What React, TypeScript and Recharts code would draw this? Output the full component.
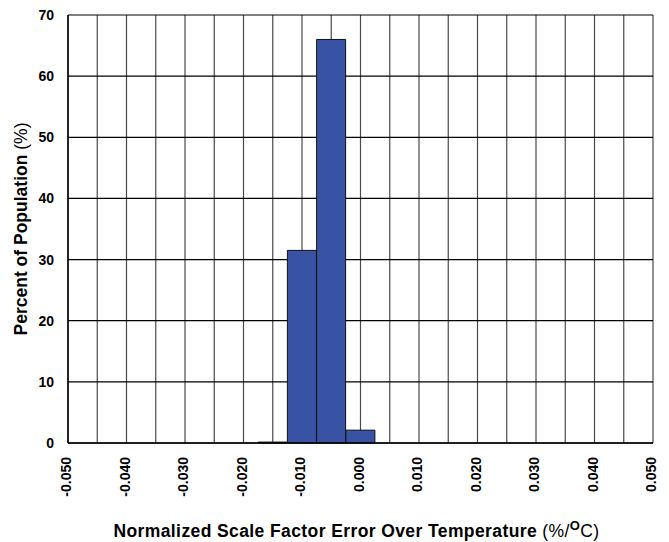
import React from 'react';
import { BarChart, Bar, XAxis, YAxis, CartesianGrid, Label } from 'recharts';

// bin centres (%/°C) and percent of population
const binCenters = [-0.015, -0.01, -0.005, 0.0];
const percents = [0.15, 31.5, 66, 2.1];

// every gridline position, labelled only at the 0.010 steps
const gridTicks = [
  -0.05, -0.045, -0.04, -0.035, -0.03, -0.025, -0.02, -0.015, -0.01, -0.005, 0,
  0.005, 0.01, 0.015, 0.02, 0.025, 0.03, 0.035, 0.04, 0.045, 0.05,
];
const labelTicks = [-0.05, -0.04, -0.03, -0.02, -0.01, 0, 0.01, 0.02, 0.03, 0.04, 0.05];
const yTicks = [0, 10, 20, 30, 40, 50, 60, 70];

const data = binCenters.map((c, i) => ({ x: c, pct: percents[i] }));

const FONT = '"Liberation Sans", Arial, sans-serif';

const XTick = (props: any) => {
  const { x, y, payload } = props;
  const v = payload.value;
  const show = labelTicks.some(t => Math.abs(t - v) < 1e-9);
  if (!show) return null;
  const label = Math.abs(v) < 1e-9 ? '0.000' : v.toFixed(3);
  return (
    <text
      x={x}
      y={y + 14}
      dy={3}
      transform={`rotate(-90, ${x}, ${y + 14})`}
      textAnchor="end"
      fontFamily={FONT}
      fontWeight="bold"
      fontSize={14}
      fill="#000"
    >
      {label}
    </text>
  );
};

const XTitle = (props: any) => {
  const vb = props.viewBox;
  const cx = vb.x + vb.width / 2 - 4;
  return (
    <text x={cx} y={537} textAnchor="middle" fontFamily={FONT} fontSize={17.5} letterSpacing={0.4} fill="#000">
      <tspan fontWeight="bold">Normalized Scale Factor Error Over Temperature </tspan>
      <tspan>(%/</tspan>
      <tspan fontWeight="bold" fontSize={13} dy={-7}>O</tspan>
      <tspan dy={7}>C)</tspan>
    </text>
  );
};

const YTitle = (props: any) => {
  const vb = props.viewBox;
  const cy = vb.y + vb.height / 2;
  return (
    <text
      x={27}
      y={cy}
      transform={`rotate(-90, 27, ${cy})`}
      textAnchor="middle"
      fontFamily={FONT}
      fontSize={17.5}
      fill="#000"
    >
      <tspan fontWeight="bold">Percent of Population </tspan>
      <tspan>(%)</tspan>
    </text>
  );
};

export default function App() {
  return (
    <div style={{ position: 'absolute', left: 0, top: 0, width: 669, height: 542, background: '#fff' }}>
      <BarChart
        width={669}
        height={542}
        data={data}
        margin={{ top: 15, right: 16, left: 0, bottom: 0 }}
        barCategoryGap={0}
      >
        <CartesianGrid horizontal={false} stroke="#4a4a4a" strokeWidth={1.2} />
        <CartesianGrid vertical={false} stroke="#000" strokeWidth={1.2} />
        <XAxis
          dataKey="x"
          type="number"
          domain={[-0.05, 0.05]}
          ticks={gridTicks}
          interval={0}
          tick={<XTick />}
          tickLine={false}
          tickSize={0}
          tickMargin={0}
          axisLine={{ stroke: '#000', strokeWidth: 1.5 }}
          height={99}
        >
          <Label content={<XTitle />} />
        </XAxis>
        <YAxis
          type="number"
          domain={[0, 70]}
          ticks={yTicks}
          interval={0}
          tickLine={false}
          tickSize={0}
          tickMargin={14}
          tick={{ fill: '#000', fontSize: 14, fontWeight: 'bold', fontFamily: FONT }}
          axisLine={{ stroke: '#000', strokeWidth: 1.5 }}
          width={68}
        >
          <Label content={<YTitle />} />
        </YAxis>
        <Bar
          dataKey="pct"
          fill="#3953a4"
          stroke="#111"
          strokeWidth={1}
          barSize={29}
          isAnimationActive={false}
        />
      </BarChart>
    </div>
  );
}
